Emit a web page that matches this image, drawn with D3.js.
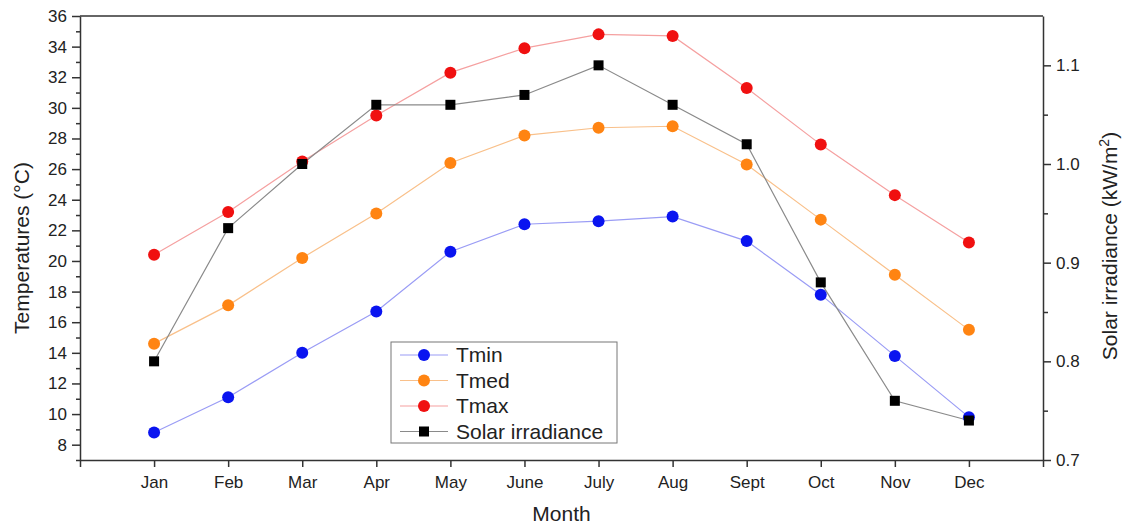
<!DOCTYPE html>
<html>
<head>
<meta charset="utf-8">
<script src="https://cdn.jsdelivr.net/npm/d3@7"></script>
<style>
  body { margin: 0; background: #fff; }
  text { font-family: "Liberation Sans", Arial, sans-serif; fill: #222; }
</style>
</head>
<body>
<div id="chart"></div>
<script>
const months = ["Jan","Feb","Mar","Apr","May","June","July","Aug","Sept","Oct","Nov","Dec"];
const tmin = [8.8, 11.1, 14.0, 16.7, 20.6, 22.4, 22.6, 22.9, 21.3, 17.8, 13.8, 9.8];
const tmed = [14.6, 17.1, 20.2, 23.1, 26.4, 28.2, 28.7, 28.8, 26.3, 22.7, 19.1, 15.5];
const tmax = [20.4, 23.2, 26.5, 29.5, 32.3, 33.9, 34.8, 34.7, 31.3, 27.6, 24.3, 21.2];
const solar = [0.80, 0.935, 1.00, 1.06, 1.06, 1.07, 1.10, 1.06, 1.02, 0.88, 0.76, 0.74];
const tempTicks = [8,10,12,14,16,18,20,22,24,26,28,30,32,34,36];
const solarTicks = [0.7,0.8,0.9,1.0,1.1];

const width = 1122, height = 527;
const m = { left: 80, right: 1043, top: 16, bottom: 460 }; // plot box edges

const svg = d3.select('#chart').append('svg')
  .attr('width', width).attr('height', height);

// x uses month index, with one empty slot at each end
const x = d3.scaleLinear().domain([0, 13]).range([m.left, m.right]);
const y = d3.scaleLinear().domain([7, 36]).range([m.bottom, m.top]);
const y2 = d3.scaleLinear().domain([0.7, 1.15]).range([m.bottom, m.top]);

// frame line on top
svg.append('line').attr('x1', m.left).attr('x2', m.right).attr('y1', m.top).attr('y2', m.top)
  .attr('stroke', '#333').attr('stroke-width', 1.5);

// left axis, with minor ticks
const yMinor = d3.range(7, 36.01, 1).filter(v => v % 2 === 1);
const gyMinor = svg.append('g').attr('transform', `translate(${m.left},0)`)
  .call(d3.axisLeft(y).tickValues(yMinor).tickSize(4).tickFormat(''))
  .call(g => g.select('.domain').remove());
const gy = svg.append('g').attr('transform', `translate(${m.left},0)`)
  .call(d3.axisLeft(y).tickValues(tempTicks).tickSize(8).tickSizeOuter(0).tickPadding(5));
gy.selectAll('text').style('font-size', '17px');

// right axis
const y2Minor = [0.75, 0.85, 0.95, 1.05];
const gy2Minor = svg.append('g').attr('transform', `translate(${m.right},0)`)
  .call(d3.axisRight(y2).tickValues(y2Minor).tickSize(5).tickFormat(''))
  .call(g => g.select('.domain').remove());
const gy2 = svg.append('g').attr('transform', `translate(${m.right},0)`)
  .call(d3.axisRight(y2).tickValues(solarTicks).tickSize(8).tickSizeOuter(0).tickPadding(5)
    .tickFormat(d3.format('.1f')));
gy2.selectAll('text').style('font-size', '17px');

// bottom axis
const gx = svg.append('g').attr('transform', `translate(0,${m.bottom})`)
  .call(d3.axisBottom(x).tickValues(d3.range(0, 14)).tickSize(7).tickSizeOuter(0).tickPadding(9)
    .tickFormat(i => (i >= 1 && i <= 12) ? months[i - 1] : ''));
gx.selectAll('text').style('font-size', '17px');

[gy, gy2, gx, gyMinor, gy2Minor].forEach(g => {
  g.select('.domain').attr('stroke', '#333').attr('stroke-width', 1.5);
  g.selectAll('.tick line').attr('stroke', '#333').attr('stroke-width', 1.5);
});

// axis titles
svg.append('text').attr('transform', `translate(29,248) rotate(-90)`)
  .attr('text-anchor', 'middle').style('font-size', '21px').text('Temperatures (°C)');
svg.append('text').attr('x', x(6.5)).attr('y', 521)
  .attr('text-anchor', 'middle').style('font-size', '21px').text('Month');
const rt = svg.append('text').attr('transform', `translate(1117,246) rotate(-90)`)
  .attr('text-anchor', 'middle').style('font-size', '21px');
rt.append('tspan').text('Solar irradiance (kW/m');
rt.append('tspan').attr('dy', -8).style('font-size', '14px').text('2');
rt.append('tspan').attr('dy', 8).text(')');

const series = [
  { name: 'Tmin', values: tmin, scale: y, line: '#9a9cf5', mark: '#0a14f0', shape: 'circle' },
  { name: 'Tmed', values: tmed, scale: y, line: '#f9c08a', mark: '#ff8412', shape: 'circle' },
  { name: 'Tmax', values: tmax, scale: y, line: '#f5a0a0', mark: '#f01010', shape: 'circle' },
  { name: 'Solar irradiance', values: solar, scale: y2, line: '#8a8a8a', mark: '#000', shape: 'square' }
];

series.forEach(s => {
  const line = d3.line().x((d, i) => x(i + 1)).y(d => s.scale(d));
  svg.append('path').datum(s.values).attr('d', line)
    .attr('fill', 'none').attr('stroke', s.line).attr('stroke-width', 1.2);
});
series.forEach(s => {
  if (s.shape === 'circle') {
    svg.selectAll(null).data(s.values).enter().append('circle')
      .attr('cx', (d, i) => x(i + 1)).attr('cy', d => s.scale(d))
      .attr('r', 6).attr('fill', s.mark);
  } else {
    svg.selectAll(null).data(s.values).enter().append('rect')
      .attr('x', (d, i) => x(i + 1) - 5).attr('y', d => s.scale(d) - 5)
      .attr('width', 10).attr('height', 10).attr('fill', s.mark);
  }
});

// legend
const lg = svg.append('g').attr('transform', 'translate(391,342)');
lg.append('rect').attr('width', 226).attr('height', 101)
  .attr('fill', '#fff').attr('stroke', '#777').attr('stroke-width', 1);
series.forEach((s, i) => {
  const cy = 13 + i * 25.5;
  lg.append('line').attr('x1', 9).attr('x2', 57).attr('y1', cy).attr('y2', cy)
    .attr('stroke', s.line).attr('stroke-width', 1.2);
  if (s.shape === 'circle') {
    lg.append('circle').attr('cx', 33).attr('cy', cy).attr('r', 6).attr('fill', s.mark);
  } else {
    lg.append('rect').attr('x', 28).attr('y', cy - 5).attr('width', 10).attr('height', 10).attr('fill', s.mark);
  }
  lg.append('text').attr('x', 65).attr('y', cy + 7).style('font-size', '21px').text(s.name);
});
</script>
</body>
</html>
